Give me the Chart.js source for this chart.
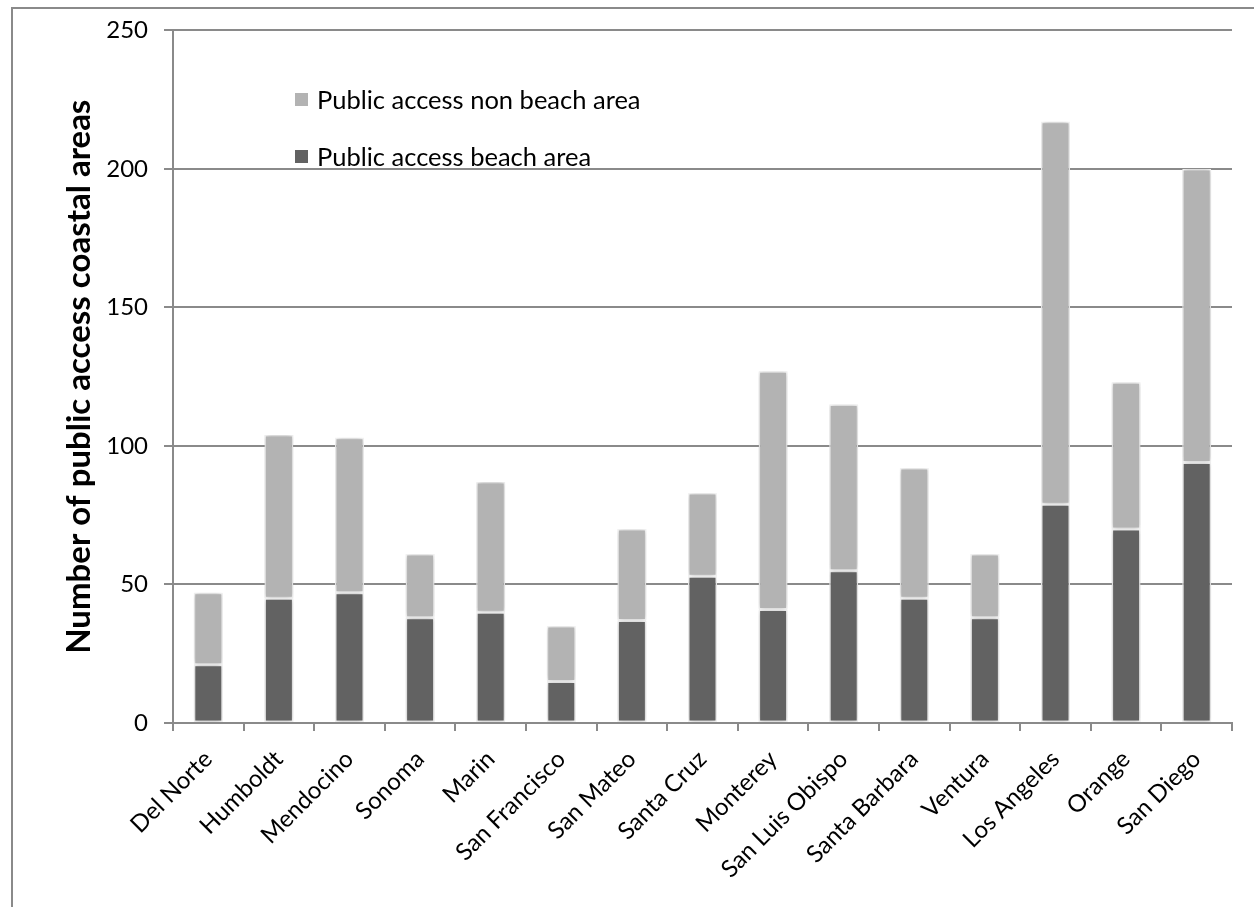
<!DOCTYPE html>
<html>
<head>
<meta charset="utf-8">
<script src="https://cdn.jsdelivr.net/npm/chart.js@4/dist/chart.umd.min.js"></script>
<style>
  html, body { margin: 0; padding: 0; background: #fff; }
  #wrap { position: relative; width: 1254px; height: 907px; overflow: hidden; }
  #frame { position: absolute; left: 11px; top: 7px; width: 1400px; height: 1000px;
           border-left: 2px solid #8a8a8a; border-top: 2px solid #8a8a8a; }
  #legend { position: absolute; left: 295px; top: 78px; font-family: Lato, sans-serif; font-size: 25.5px; color: #000; }
  .item { display: flex; align-items: center; height: 42px; margin-bottom: 15px; }
  .swatch { width: 13px; height: 13px; margin-right: 9px; }
</style>
</head>
<body>
<div id="wrap">
  <div id="frame"></div>
  <canvas id="chart" width="1254" height="907"></canvas>
  <div id="legend"></div>
</div>
<script>
// 카운티별 공공 해안 접근 지점 수
const counties = ['Del Norte', 'Humboldt', 'Mendocino', 'Sonoma', 'Marin', 'San Francisco', 'San Mateo',
  'Santa Cruz', 'Monterey', 'San Luis Obispo', 'Santa Barbara', 'Ventura', 'Los Angeles', 'Orange', 'San Diego'];
const beachArea = [21, 45, 47, 38, 40, 15, 37, 53, 41, 55, 45, 38, 79, 70, 94];
const nonBeachArea = [26, 59, 56, 23, 47, 20, 33, 30, 86, 60, 47, 23, 138, 53, 106];
const yMin = 0, yMax = 250, yStep = 50;

const seriesLabels = ['Public access beach area', 'Public access non beach area'];
const seriesColors = ['#626262', '#b3b3b3'];

// 막대 그림자
const barShadow = {
  id: 'barShadow',
  beforeDatasetsDraw(chart) {
    const ctx = chart.ctx;
    ctx.save();
    ctx.shadowColor = 'rgba(0,0,0,0.28)';
    ctx.shadowBlur = 5;
  },
  afterDatasetsDraw(chart) {
    chart.ctx.restore();
  }
};

const font = { family: 'Lato, sans-serif', size: 24 };
const axisGray = '#8a8a8a';

const ctx = document.getElementById('chart').getContext('2d');
const chart = new Chart(ctx, {
  type: 'bar',
  data: {
    labels: counties,
    datasets: [
      { label: seriesLabels[0], data: beachArea, backgroundColor: seriesColors[0] },
      { label: seriesLabels[1], data: nonBeachArea, backgroundColor: seriesColors[1] }
    ]
  },
  options: {
    responsive: false,
    animation: false,
    layout: { padding: { left: 11, top: 29, right: 22, bottom: 0 } },
    datasets: {
      bar: {
        categoryPercentage: 1,
        barPercentage: 0.41,
        borderColor: '#f6f6f6',
        borderWidth: 1.5,
        borderSkipped: false
      }
    },
    plugins: {
      legend: { display: false },
      tooltip: { enabled: false }
    },
    scales: {
      x: {
        stacked: true,
        grid: { drawOnChartArea: false, drawTicks: true, tickLength: 8, color: axisGray, lineWidth: 2 },
        border: { color: axisGray, width: 2 },
        ticks: { color: '#000', font: font, maxRotation: 45, minRotation: 45, autoSkip: false, padding: 14 },
        afterFit(axis) { axis.height = 907 - 723; }
      },
      y: {
        stacked: true,
        min: yMin,
        max: yMax,
        ticks: { stepSize: yStep, color: '#000', font: font, padding: 16 },
        grid: { color: axisGray, lineWidth: 2, tickLength: 9 },
        border: { color: axisGray, width: 2 },
        title: {
          display: true,
          text: 'Number of public access coastal areas',
          color: '#000',
          font: { family: 'Lato, sans-serif', size: 33, weight: 'bold' },
          padding: { top: 49, bottom: 0 }
        },
        afterFit(axis) { axis.width = 173 - 11; }
      }
    }
  },
  plugins: [barShadow]
});

// 범례 (역순: 위쪽이 non beach)
const legend = document.getElementById('legend');
for (let i = seriesLabels.length - 1; i >= 0; i--) {
  legend.innerHTML += `
    <div class="item"><span class="swatch" style="background:${seriesColors[i]}"></span>${seriesLabels[i]}</div>
  `;
}
</script>
</body>
</html>
